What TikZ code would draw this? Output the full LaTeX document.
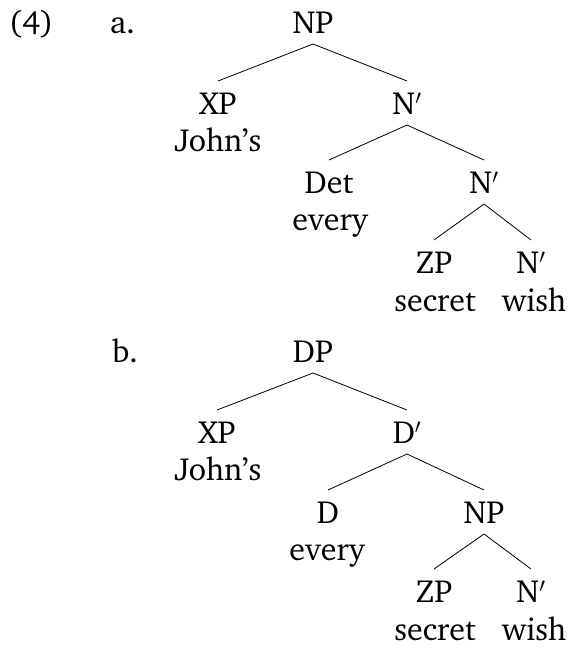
\documentclass[tikz,border=0pt]{standalone}
\usepackage[T1]{fontenc}
\usepackage{charter}
\begin{document}
\begin{tikzpicture}[x=1pt,y=-1pt,
  lbl/.style={anchor=base,inner sep=0pt,outer sep=0pt,font=\fontsize{32pt}{38pt}\selectfont},
  cat/.style={lbl,text height=21pt,text depth=0pt},
  wrd/.style={lbl},
  num/.style={lbl,anchor=base west},
  branch/.style={line width=0.8pt}]
\useasboundingbox (0,0) rectangle (570,648);
\newcommand{\br}[2]{\draw[branch] ([yshift=-11pt]#1.base) -- ([yshift=12pt]#2.north);}
% (a)
\node[num] (ex) at (9,33) {(4)};
\node[num] (la) at (110,33) {a.};
\node[cat] (aNP) at (313,33) {NP};
\node[cat] (aXP) at (218,114) {XP};
\node[wrd] (aJ) at (218,151) {John's};
\node[cat] (aN1) at (407,114) {N$'$};
\node[cat] (aDet) at (329,193) {Det};
\node[wrd] (aE) at (330,230) {every};
\node[cat] (aN2) at (484,193) {N$'$};
\node[cat] (aZP) at (434,273) {ZP};
\node[wrd] (aS) at (435,311) {secret};
\node[cat] (aN3) at (531,273) {N$'$};
\node[wrd] (aW) at (534,311) {wish};
\br{aNP}{aXP}\br{aNP}{aN1}
\br{aN1}{aDet}\br{aN1}{aN2}
\br{aN2}{aZP}\br{aN2}{aN3}
% (b)
\node[num] (lb) at (112,362) {b.};
\node[cat] (bDP) at (313,362) {DP};
\node[cat] (bXP) at (217,443) {XP};
\node[wrd] (bJ) at (218,480) {John's};
\node[cat] (bD1) at (407,443) {D$'$};
\node[cat] (bD) at (328,523) {D};
\node[wrd] (bE) at (327,560) {every};
\node[cat] (bNP) at (484,523) {NP};
\node[cat] (bZP) at (434,602) {ZP};
\node[wrd] (bS) at (435,640) {secret};
\node[cat] (bN) at (531,602) {N$'$};
\node[wrd] (bW) at (534,640) {wish};
\br{bDP}{bXP}\br{bDP}{bD1}
\br{bD1}{bD}\br{bD1}{bNP}
\br{bNP}{bZP}\br{bNP}{bN}
\end{tikzpicture}
\end{document}
